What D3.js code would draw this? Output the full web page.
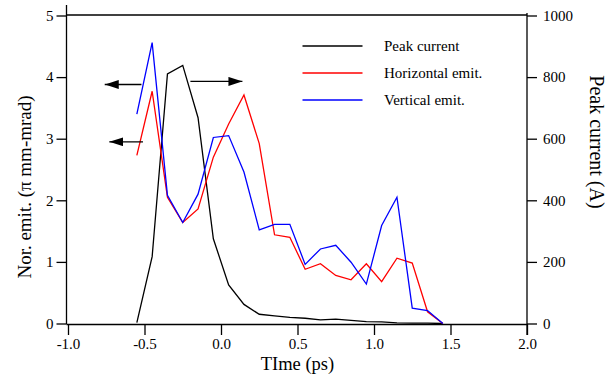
<!DOCTYPE html>
<meta charset="utf-8">
<style>
body { margin: 0; background: #fff; }
svg text { font-family: "Liberation Serif", "Times New Roman", serif; fill: #000; }
.tick text { font-size: 15px; }
.axis path, .axis line { stroke: #000; stroke-width: 1.3px; }
.series { fill: none; stroke-width: 1.3px; }
</style>
<svg width="609" height="377"></svg>
<script src="https://d3js.org/d3.v7.min.js"></script>
<script>

// time axis, ps
var time = [-0.55, -0.45, -0.35, -0.25, -0.15, -0.05, 0.05, 0.15, 0.25, 0.35, 0.45,
            0.55, 0.65, 0.75, 0.85, 0.95, 1.05, 1.15, 1.25, 1.35, 1.45];
// peak current (A), right axis
var peakCurrent = [3, 217, 810, 838, 668, 275, 125, 62, 30, 25, 20,
                   17, 12, 14, 10, 6, 5, 2, 1, 1, 0];
// normalized emittance (pi mm-mrad), left axis
var horizEmit = [2.73, 3.77, 2.05, 1.64, 1.86, 2.70, 3.24, 3.71, 2.92, 1.44, 1.40,
                 0.88, 0.97, 0.78, 0.71, 0.97, 0.68, 1.06, 0.98, 0.19, 0.0];
var vertEmit = [3.40, 4.56, 2.08, 1.64, 2.10, 3.02, 3.05, 2.46, 1.52, 1.61, 1.61,
                0.96, 1.21, 1.27, 0.995, 0.64, 1.59, 2.05, 0.25, 0.21, 0.0];

var xTicks = [-1.0, -0.5, 0.0, 0.5, 1.0, 1.5, 2.0];
var leftTicks = [0, 1, 2, 3, 4, 5];
var rightTicks = [0, 200, 400, 600, 800, 1000];

var legendNames = ["Peak current", "Horizontal emit.", "Vertical emit."];
var legendColors = ["#000", "#f00", "#00f"];

var svg = d3.select("svg");

var x = d3.scaleLinear().domain([-1, 2]).range([68, 527]);
var yL = d3.scaleLinear().domain([0, 5]).range([323.5, 15.5]);
var yR = d3.scaleLinear().domain([0, 1000]).range([323.5, 15.5]);

// plain hyphen for negatives, like the original
var fmtX = function(d) { return d.toFixed(1); };

// frame top
svg.append("line")
    .attr("x1", 66.5).attr("x2", 527).attr("y1", 15).attr("y2", 15)
    .attr("stroke", "#000").attr("stroke-width", 1.3);

var xAxis = svg.append("g").attr("class", "axis")
    .attr("transform", "translate(0,324)")
    .call(d3.axisBottom(x).tickValues(xTicks).tickFormat(fmtX).tickSize(11).tickSizeOuter(0));
xAxis.select(".domain").attr("d", "M66.5,0.5H527");
xAxis.selectAll(".tick text").attr("y", 14).attr("dy", "0.71em");

var lAxis = svg.append("g").attr("class", "axis")
    .attr("transform", "translate(66.5,0)")
    .call(d3.axisLeft(yL).tickValues(leftTicks).tickFormat(d3.format("d")).tickSize(10).tickSizeOuter(0));
lAxis.select(".domain").attr("d", "M0,5V324");
lAxis.selectAll(".tick text").attr("x", -13);

var rAxis = svg.append("g").attr("class", "axis")
    .attr("transform", "translate(527,0)")
    .call(d3.axisRight(yR).tickValues(rightTicks).tickFormat(d3.format("d")).tickSize(10).tickSizeOuter(0));
rAxis.select(".domain").attr("d", "M0,13V335");
rAxis.selectAll(".tick text").attr("x", 16);

// axis titles
svg.append("text")
    .attr("transform", "translate(" + x(0.5) + ",370)")
    .attr("text-anchor", "middle")
    .style("font-size", "18.5px")
    .text("TIme (ps)");

svg.append("text")
    .attr("transform", "translate(31,187) rotate(-90)")
    .attr("text-anchor", "middle")
    .style("font-size", "19px")
    .text("Nor. emit. (\u03c0 mm-mrad)");

svg.append("text")
    .attr("transform", "translate(590,142) rotate(90)")
    .attr("text-anchor", "middle")
    .style("font-size", "20px")
    .text("Peak current (A)");

// series
function drawLine(vals, yScale, color) {
  var line = d3.line()
      .x(function(d, i) { return x(time[i]); })
      .y(function(d) { return yScale(d); });
  svg.append("path").datum(vals)
      .attr("class", "series")
      .attr("stroke", color)
      .attr("d", line);
}
drawLine(peakCurrent, yR, "#000");
drawLine(horizEmit, yL, "#f00");
drawLine(vertEmit, yL, "#00f");

// arrows pointing to the matching axis
var defs = svg.append("defs");
defs.append("marker")
    .attr("id", "head")
    .attr("viewBox", "0 0 14 9")
    .attr("refX", 14).attr("refY", 4.5)
    .attr("markerWidth", 14).attr("markerHeight", 9)
    .attr("markerUnits", "userSpaceOnUse")
    .attr("orient", "auto")
  .append("path")
    .attr("d", "M0,0L14,4.5L0,9Z")
    .attr("fill", "#000");

var arrows = [
  {x1: -0.52, x2: -0.76, y: yL(3.88)},
  {x1: -0.51, x2: -0.73, y: yL(2.95)},
  {x1: -0.2, x2: 0.14, y: yR(786)}
];
svg.selectAll(".arrow").data(arrows).enter().append("line")
    .attr("class", "arrow")
    .attr("x1", function(d) { return x(d.x1); })
    .attr("x2", function(d) { return x(d.x2); })
    .attr("y1", function(d) { return d.y; })
    .attr("y2", function(d) { return d.y; })
    .attr("stroke", "#000").attr("stroke-width", 1.3)
    .attr("marker-end", "url(#head)");

// legend
var legend = svg.append("g");
legendNames.forEach(function(name, i) {
  var ly = 46 + i * 27;
  legend.append("line")
      .attr("x1", 302.5).attr("x2", 362.5)
      .attr("y1", ly).attr("y2", ly)
      .attr("stroke", legendColors[i]).attr("stroke-width", 1.3);
  legend.append("text")
      .attr("x", 384).attr("y", ly + 5)
      .style("font-size", "15px")
      .text(name);
});
</script>
